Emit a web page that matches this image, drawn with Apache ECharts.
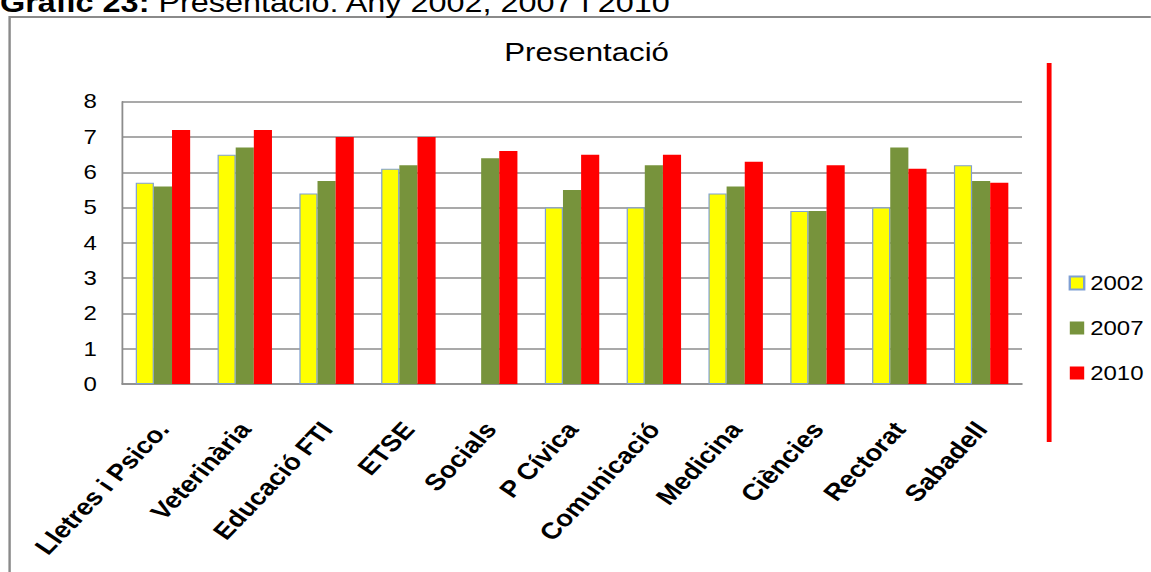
<!DOCTYPE html>
<html>
<head>
<meta charset="utf-8">
<script src="https://cdn.jsdelivr.net/npm/echarts@6/dist/echarts.min.js"></script>
<style>
html, body { margin: 0; padding: 0; background: #fff; overflow: hidden; width: 1151px; height: 572px; }
#chart { width: 959px; height: 572px; transform: scaleX(1.2); transform-origin: 0 0; }
</style>
</head>
<body>
<div id="chart"></div>
<script>
const categories = ['Lletres i Psico.', 'Veterinària', 'Educació FTI', 'ETSE', 'Socials', 'P Cívica', 'Comunicació', 'Medicina', 'Ciències', 'Rectorat', 'Sabadell'];
const seriesNames = ['2002', '2007', '2010'];
const values2002 = [5.7, 6.5, 5.4, 6.1, null, 5.0, 5.0, 5.4, 4.9, 5.0, 6.2];
const values2007 = [5.6, 6.7, 5.75, 6.2, 6.4, 5.5, 6.2, 5.6, 4.9, 6.7, 5.75];
const values2010 = [7.2, 7.2, 7.0, 7.0, 6.6, 6.5, 6.5, 6.3, 6.2, 6.1, 5.7];
const yTicks = { min: 0, max: 8, interval: 1 };
const chartTitle = 'Presentació';
const captionBold = 'Gràfic 23:';
const captionRest = ' Presentació: Any 2002, 2007 i 2010';

const FONT = "'Liberation Sans', Arial, sans-serif";
const chart = echarts.init(document.getElementById('chart'), null, { renderer: 'svg' });

const option = {
  animation: false,
  backgroundColor: '#ffffff',
  textStyle: { fontFamily: FONT },
  grid: { left: 101.7, right: 107.3, top: 101.7, bottom: 188, containLabel: false },
  legend: {
    orient: 'vertical',
    left: 885.5,
    top: 268,
    itemWidth: 12,
    itemHeight: 13,
    itemGap: 25,
    icon: 'rect',
    data: seriesNames,
    textStyle: { fontFamily: FONT, fontSize: 20, color: '#000', lineHeight: 20 }
  },
  xAxis: {
    type: 'category',
    data: categories,
    axisLine: { show: true, lineStyle: { color: '#8c8c8c', width: 1.5 } },
    axisTick: { show: false },
    axisLabel: {
      interval: 0,
      rotate: 51,
      margin: 41,
      fontFamily: FONT,
      fontWeight: 'bold',
      fontSize: 23,
      color: '#000'
    }
  },
  yAxis: {
    type: 'value',
    min: yTicks.min,
    max: yTicks.max,
    interval: yTicks.interval,
    axisLine: { show: true, lineStyle: { color: '#8c8c8c', width: 1.5 } },
    axisTick: { show: false },
    axisLabel: { margin: 21, fontFamily: FONT, fontSize: 20, color: '#000' },
    splitLine: { show: true, lineStyle: { color: '#8c8c8c', width: 1.5 } }
  },
  series: [
    {
      name: seriesNames[0], type: 'bar', data: values2002,
      barGap: '0%', barCategoryGap: '33.5%',
      itemStyle: { color: '#ffff00', borderColor: '#7f9fd3', borderWidth: 1 }
    },
    {
      name: seriesNames[1], type: 'bar', data: values2007,
      barGap: '0%', barCategoryGap: '33.5%',
      itemStyle: { color: '#77933c' }
    },
    {
      name: seriesNames[2], type: 'bar', data: values2010,
      barGap: '0%', barCategoryGap: '33.5%',
      itemStyle: { color: '#ff0000' }
    }
  ],
  graphic: [
    {
      type: 'rect', silent: true,
      shape: { x: 8, y: 17, width: 3000, height: 3000 },
      style: { fill: 'none', stroke: '#8a8a8a', lineWidth: 2 }
    },
    {
      type: 'text', silent: true, left: 0, top: -11,
      style: {
        text: '{b|' + captionBold + '}{n|' + captionRest + '}',
        rich: {
          b: { fontFamily: FONT, fontSize: 27, fontWeight: 'bold', fill: '#000' },
          n: { fontFamily: FONT, fontSize: 27, fill: '#000' }
        }
      }
    },
    {
      type: 'text', silent: true,
      x: 488.8, y: 52,
      style: {
        text: chartTitle,
        fontFamily: FONT, fontSize: 26, fill: '#000',
        textAlign: 'center', textVerticalAlign: 'middle'
      }
    },
    {
      type: 'rect', silent: true,
      shape: { x: 872.3, y: 63, width: 4, height: 379 },
      style: { fill: '#ff0000' }
    }
  ]
};
chart.setOption(option);
</script>
</body>
</html>
